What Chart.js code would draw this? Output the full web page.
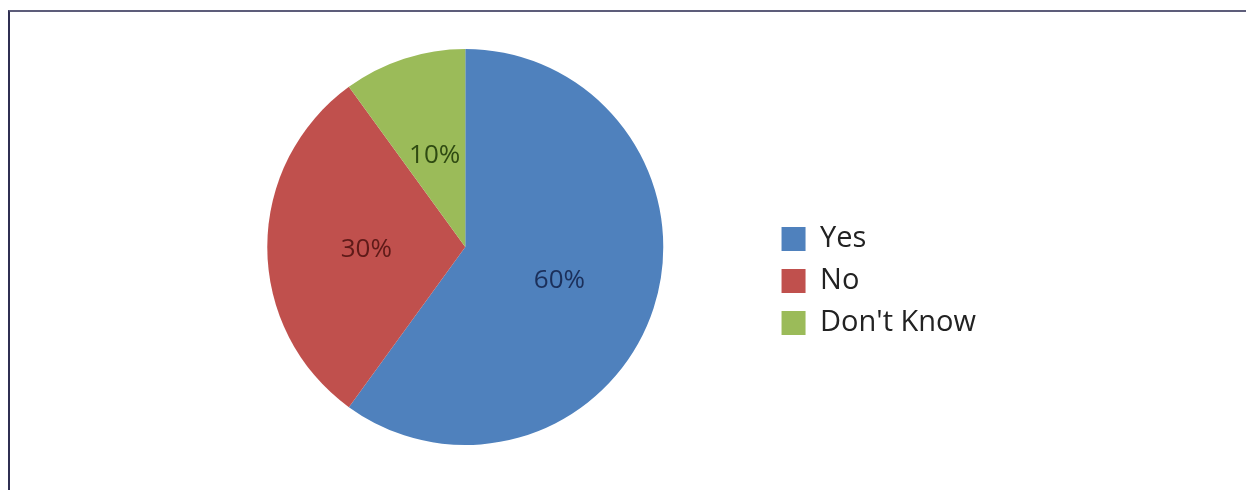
<!DOCTYPE html>
<html>
<head>
<meta charset="utf-8">
<script src="https://cdn.jsdelivr.net/npm/chart.js@4"></script>
<style>
  html, body { margin: 0; padding: 0; background: #fff; }
  body { width: 1246px; height: 490px; position: relative; overflow: hidden; }
  #frame {
    position: absolute; left: 8px; top: 10px; right: 0; bottom: 0;
    border-top: 2px solid #5d5d7a; border-left: 2px solid #2f2f52;
  }
  #wrap { position: absolute; left: 10px; top: 12px; width: 1236px; height: 478px; }
</style>
</head>
<body>
<div id="frame"></div>
<div id="wrap"><canvas id="answer-chart"></canvas></div>
<script>
const labels = ['Yes', 'No', "Don't Know"];
const values = [60, 30, 10];
const colors = ['#4f81bd', '#c0504d', '#9bbb59'];
const labelColors = ['#1b2f5a', '#5e1a18', '#2f4a12'];

// percentage text in the middle of each slice
const sliceLabels = {
    id: 'sliceLabels',
    afterDatasetsDraw(chart) {
        const ctx = chart.ctx;
        const meta = chart.getDatasetMeta(0);
        const total = values.reduce((a, b) => a + b, 0);
        ctx.save();
        ctx.font = '26px "Open Sans", sans-serif';
        ctx.textAlign = 'center';
        ctx.textBaseline = 'middle';
        meta.data.forEach((arc, i) => {
            const p = arc.getCenterPoint();
            ctx.fillStyle = labelColors[i];
            ctx.fillText(Math.round(values[i] / total * 100) + '%', p.x, p.y + 3);
        });
        ctx.restore();
    }
};

document.addEventListener('DOMContentLoaded', () => {
    const ctx = document.getElementById('answer-chart').getContext('2d');
    new Chart(ctx, {
        type: 'pie',
        data: {
            labels: labels,
            datasets: [{
                data: values,
                backgroundColor: colors,
                borderWidth: 0
            }]
        },
        options: {
            responsive: true,
            maintainAspectRatio: false,
            animation: false,
            layout: {
                padding: { left: 152, right: 260, top: 37, bottom: 45 }
            },
            plugins: {
                tooltip: { enabled: false },
                legend: {
                    position: 'right',
                    align: 'center',
                    // empty title only nudges the legend rows down a little
                    title: { display: true, text: '', font: { size: 10 }, padding: { top: 56, bottom: 0 } },
                    labels: {
                        boxWidth: 24,
                        boxHeight: 24,
                        padding: 13,
                        color: '#222',
                        font: { family: '"Open Sans", sans-serif', size: 29 }
                    }
                }
            }
        },
        plugins: [sliceLabels]
    });
});
</script>
</body>
</html>
